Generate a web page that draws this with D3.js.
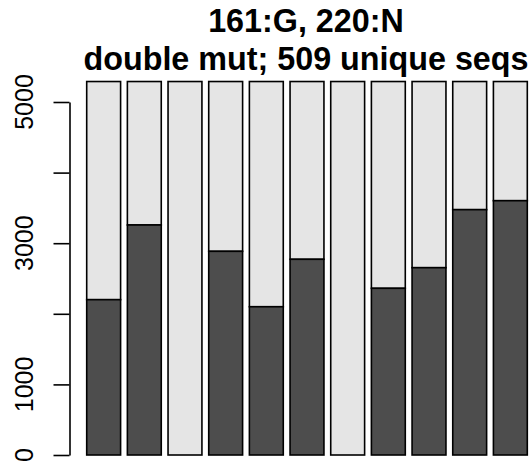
<!DOCTYPE html>
<html>
<head>
<meta charset="utf-8">
<script src="https://cdn.jsdelivr.net/npm/d3@7"></script>
<style>
  body { margin: 0; background: #fff; }
  svg { display: block; font-family: "Liberation Sans", Arial, Helvetica, sans-serif; }
</style>
</head>
<body>
<svg width="530" height="464"></svg>
<script>
// stacked bars: dark part = mutant counts, light part = rest of total
var categories = ["1", "2", "3", "4", "5", "6", "7", "8", "9", "10", "11"];
var darkValues = [2200, 3258, 0, 2885, 2100, 2772, 0, 2361, 2653, 3475, 3602];
var totalValue = 5290;
var tickValues = [0, 1000, 2000, 3000, 4000, 5000];
var tickLabels = ["0", "1000", "", "3000", "", "5000"];
var titleLines = ["161:G, 220:N", "double mut; 509 unique seqs"];

var svg = d3.select("svg");

var x = d3.scaleBand()
    .domain(categories)
    .range([86.7, 527.3])
    .paddingInner(1 / 6)
    .paddingOuter(0);

var y = d3.scaleLinear()
    .domain([0, 5000])
    .range([455, 102]);

var bars = svg.append("g");

// light (top) part
bars.selectAll("rect.top")
    .data(categories)
    .enter()
    .append("rect")
    .attr("class", "top")
    .attr("x", function(d) { return x(d); })
    .attr("width", x.bandwidth())
    .attr("y", y(totalValue))
    .attr("height", function(d, i) { return y(darkValues[i]) - y(totalValue); })
    .attr("fill", "#e5e5e5")
    .attr("stroke", "#000")
    .attr("stroke-width", 1.6);

// dark (bottom) part
bars.selectAll("rect.bottom")
    .data(categories)
    .enter()
    .append("rect")
    .attr("class", "bottom")
    .attr("x", function(d) { return x(d); })
    .attr("width", x.bandwidth())
    .attr("y", function(d, i) { return y(darkValues[i]); })
    .attr("height", function(d, i) { return y(0) - y(darkValues[i]); })
    .attr("fill", "#4d4d4d")
    .attr("stroke", "#000")
    .attr("stroke-width", 1.6);

// y axis
var axis = svg.append("g")
    .attr("transform", "translate(69.5,0)")
    .call(d3.axisLeft(y).tickValues(tickValues).tickSize(16).tickSizeOuter(0).tickFormat(""));
axis.select(".domain").attr("stroke", "#000").attr("stroke-width", 1.6);
axis.selectAll(".tick line").attr("stroke", "#000").attr("stroke-width", 1.6);
axis.selectAll(".tick text").remove();

svg.append("g").selectAll("text")
    .data(tickValues)
    .enter()
    .append("text")
    .attr("transform", function(d) { return "translate(33," + y(d) + ") rotate(-90)"; })
    .attr("text-anchor", "middle")
    .attr("font-size", 25)
    .attr("fill", "#000")
    .text(function(d, i) { return tickLabels[i]; });

// title
svg.append("g").selectAll("text")
    .data(titleLines)
    .enter()
    .append("text")
    .attr("x", 306)
    .attr("y", function(d, i) { return 32 + i * 38; })
    .attr("text-anchor", "middle")
    .attr("font-size", 32.3)
    .attr("font-weight", "bold")
    .attr("fill", "#000")
    .text(function(d) { return d; });
</script>
</body>
</html>
